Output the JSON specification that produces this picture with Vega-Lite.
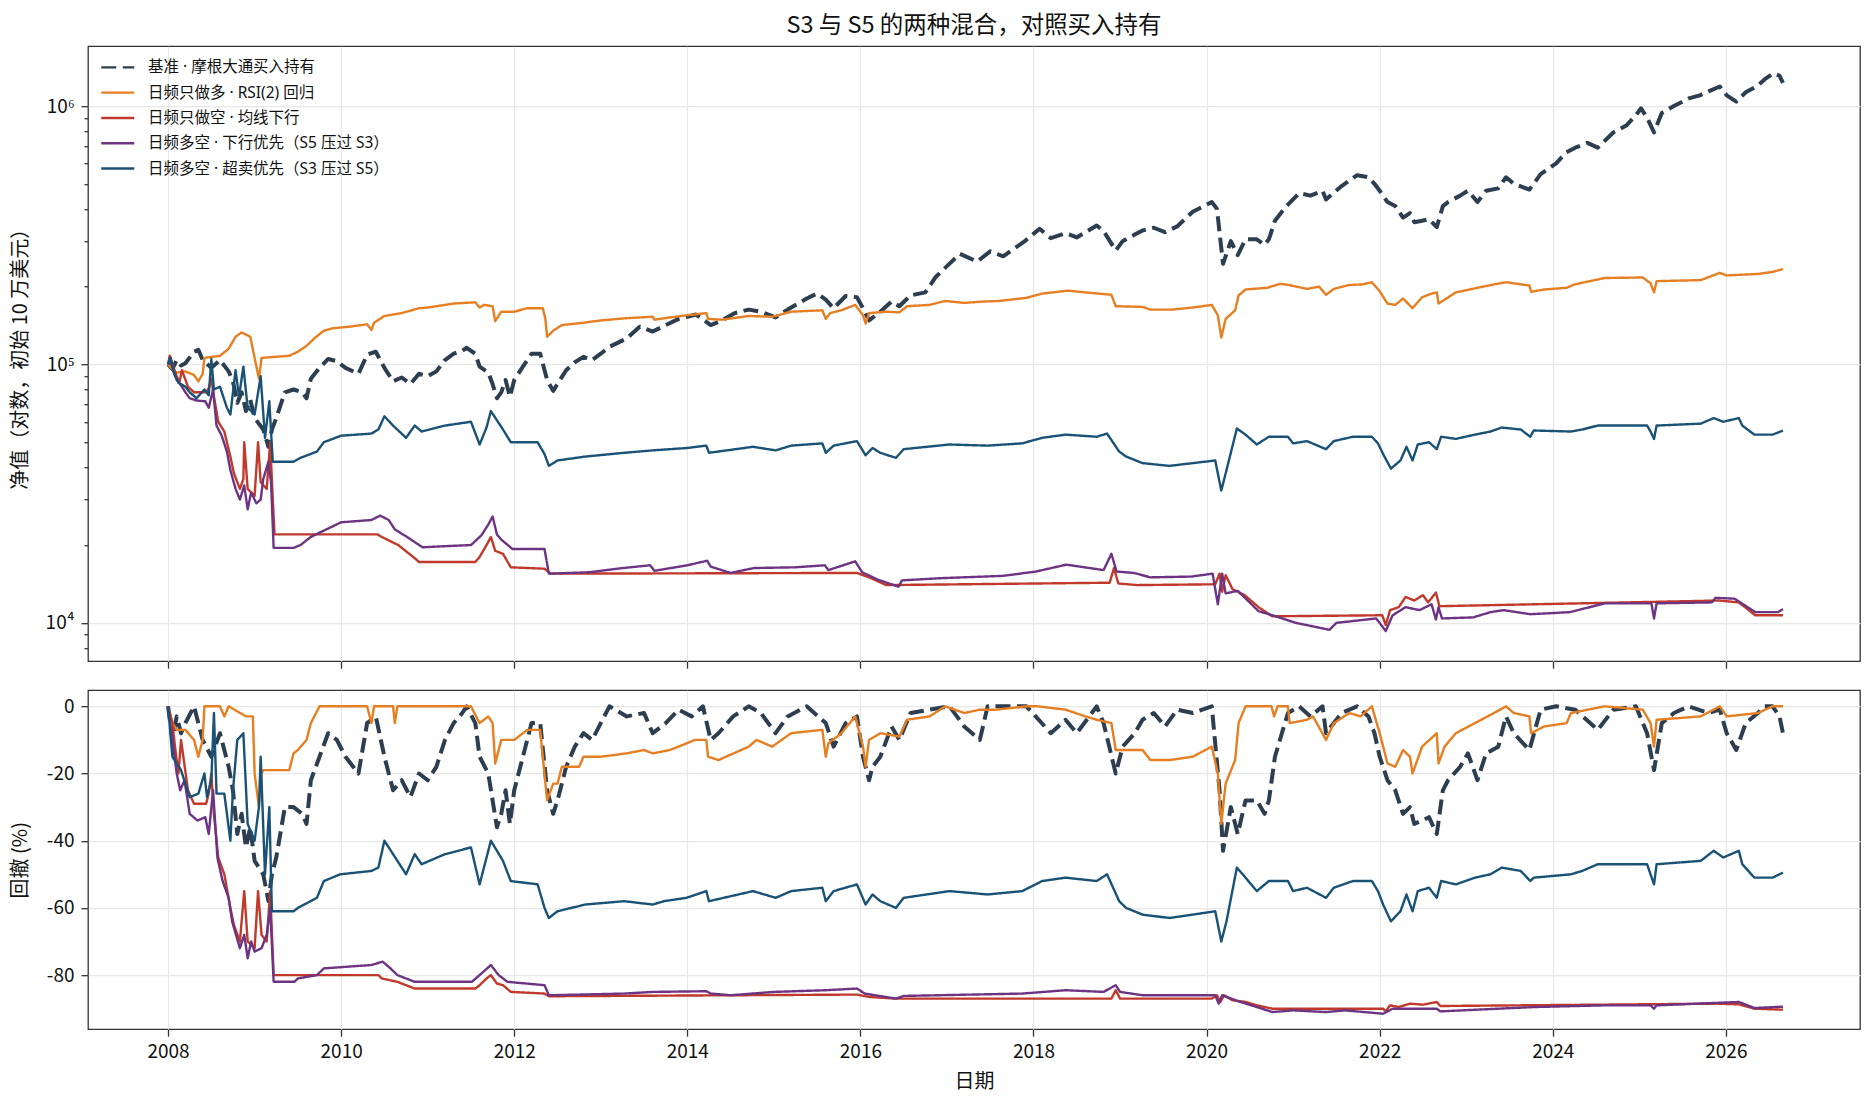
{
  "$schema": "https://vega.github.io/schema/vega-lite/v6.json",
  "background": "white",
  "padding": {"left": 9, "top": 13.2, "right": 14, "bottom": 14},
  "config": {
    "font": "Noto Sans CJK SC",
    "view": {"stroke": "#333333", "strokeWidth": 1.3},
    "axis": {
      "grid": true, "gridColor": "#e8e8e8", "gridWidth": 1.2, "domain": false,
      "tickColor": "#333333", "tickSize": 7, "tickWidth": 1.3,
      "labelFontSize": 19, "labelColor": "#111111", "labelPadding": 7,
      "titleFontSize": 20, "titleFontWeight": "normal", "titleColor": "#111111"
    },
    "legend": {
      "title": null, "orient": "none", "legendX": 17, "legendY": 8.4, "padding": 5,
      "labelFont": "Noto Sans, Noto Sans CJK SC", "labelFontSize": 15.5, "labelColor": "#111111",
      "labelOffset": 22.5, "labelLimit": 0, "rowPadding": 8.3,
      "symbolType": "M-3.3,0H3.3", "symbolSize": 100, "symbolStrokeWidth": 2.4
    },
    "line": {"strokeJoin": "round"}
  },
  "spacing": 19,
  "resolve": {
    "scale": {"color": "independent", "strokeDash": "independent"},
    "legend": {"color": "independent", "strokeDash": "independent"}
  },
  "datasets": {
    "nav": [
      {"s":"bh","t":2008.0,"v":100000},{"s":"bh","t":2008.05,"v":96000},{"s":"bh","t":2008.1,"v":104000},{"s":"bh","t":2008.15,"v":99000},{"s":"bh","t":2008.2,"v":101000},{"s":"bh","t":2008.3,"v":112000},{"s":"bh","t":2008.35,"v":114000},{"s":"bh","t":2008.4,"v":104000},{"s":"bh","t":2008.5,"v":97000},{"s":"bh","t":2008.6,"v":104000},{"s":"bh","t":2008.7,"v":94000},{"s":"bh","t":2008.75,"v":86000},{"s":"bh","t":2008.8,"v":71000},{"s":"bh","t":2008.85,"v":78000},{"s":"bh","t":2008.9,"v":66000},{"s":"bh","t":2008.95,"v":73000},{"s":"bh","t":2009.0,"v":62000},{"s":"bh","t":2009.1,"v":56000},{"s":"bh","t":2009.16,"v":48000},{"s":"bh","t":2009.2,"v":56000},{"s":"bh","t":2009.25,"v":62000},{"s":"bh","t":2009.35,"v":78000},{"s":"bh","t":2009.45,"v":80000},{"s":"bh","t":2009.55,"v":78000},{"s":"bh","t":2009.6,"v":74000},{"s":"bh","t":2009.65,"v":88000},{"s":"bh","t":2009.75,"v":97000},{"s":"bh","t":2009.85,"v":105000},{"s":"bh","t":2009.95,"v":103000},{"s":"bh","t":2010.05,"v":97000},{"s":"bh","t":2010.2,"v":92000},{"s":"bh","t":2010.3,"v":109000},{"s":"bh","t":2010.4,"v":112000},{"s":"bh","t":2010.5,"v":97000},{"s":"bh","t":2010.6,"v":86000},{"s":"bh","t":2010.7,"v":89000},{"s":"bh","t":2010.8,"v":84000},{"s":"bh","t":2010.9,"v":92000},{"s":"bh","t":2011.0,"v":90000},{"s":"bh","t":2011.1,"v":94000},{"s":"bh","t":2011.2,"v":104000},{"s":"bh","t":2011.3,"v":110000},{"s":"bh","t":2011.4,"v":113000},{"s":"bh","t":2011.45,"v":116000},{"s":"bh","t":2011.55,"v":110000},{"s":"bh","t":2011.6,"v":98000},{"s":"bh","t":2011.7,"v":93000},{"s":"bh","t":2011.75,"v":84000},{"s":"bh","t":2011.8,"v":74000},{"s":"bh","t":2011.85,"v":78000},{"s":"bh","t":2011.9,"v":87000},{"s":"bh","t":2011.95,"v":75000},{"s":"bh","t":2012.0,"v":87000},{"s":"bh","t":2012.1,"v":98000},{"s":"bh","t":2012.2,"v":110000},{"s":"bh","t":2012.3,"v":110000},{"s":"bh","t":2012.38,"v":87000},{"s":"bh","t":2012.45,"v":79000},{"s":"bh","t":2012.5,"v":84000},{"s":"bh","t":2012.6,"v":95000},{"s":"bh","t":2012.7,"v":102000},{"s":"bh","t":2012.8,"v":107000},{"s":"bh","t":2012.9,"v":104000},{"s":"bh","t":2013.0,"v":110000},{"s":"bh","t":2013.1,"v":117000},{"s":"bh","t":2013.3,"v":126000},{"s":"bh","t":2013.45,"v":140000},{"s":"bh","t":2013.6,"v":134000},{"s":"bh","t":2013.75,"v":142000},{"s":"bh","t":2013.9,"v":150000},{"s":"bh","t":2014.0,"v":153000},{"s":"bh","t":2014.1,"v":156000},{"s":"bh","t":2014.27,"v":142000},{"s":"bh","t":2014.4,"v":148000},{"s":"bh","t":2014.55,"v":158000},{"s":"bh","t":2014.71,"v":163000},{"s":"bh","t":2014.85,"v":160000},{"s":"bh","t":2015.02,"v":152000},{"s":"bh","t":2015.16,"v":163000},{"s":"bh","t":2015.38,"v":180000},{"s":"bh","t":2015.5,"v":188000},{"s":"bh","t":2015.6,"v":178000},{"s":"bh","t":2015.69,"v":165000},{"s":"bh","t":2015.83,"v":184000},{"s":"bh","t":2015.96,"v":182000},{"s":"bh","t":2016.03,"v":165000},{"s":"bh","t":2016.1,"v":148000},{"s":"bh","t":2016.23,"v":160000},{"s":"bh","t":2016.36,"v":175000},{"s":"bh","t":2016.45,"v":168000},{"s":"bh","t":2016.58,"v":185000},{"s":"bh","t":2016.75,"v":190000},{"s":"bh","t":2016.87,"v":218000},{"s":"bh","t":2017.0,"v":240000},{"s":"bh","t":2017.15,"v":268000},{"s":"bh","t":2017.35,"v":250000},{"s":"bh","t":2017.5,"v":274000},{"s":"bh","t":2017.65,"v":262000},{"s":"bh","t":2017.9,"v":300000},{"s":"bh","t":2018.07,"v":335000},{"s":"bh","t":2018.2,"v":308000},{"s":"bh","t":2018.37,"v":322000},{"s":"bh","t":2018.5,"v":310000},{"s":"bh","t":2018.73,"v":345000},{"s":"bh","t":2018.81,"v":328000},{"s":"bh","t":2018.95,"v":276000},{"s":"bh","t":2019.03,"v":300000},{"s":"bh","t":2019.17,"v":318000},{"s":"bh","t":2019.26,"v":330000},{"s":"bh","t":2019.39,"v":338000},{"s":"bh","t":2019.52,"v":325000},{"s":"bh","t":2019.66,"v":342000},{"s":"bh","t":2019.84,"v":390000},{"s":"bh","t":2020.06,"v":425000},{"s":"bh","t":2020.12,"v":400000},{"s":"bh","t":2020.19,"v":245000},{"s":"bh","t":2020.28,"v":300000},{"s":"bh","t":2020.36,"v":265000},{"s":"bh","t":2020.45,"v":305000},{"s":"bh","t":2020.58,"v":305000},{"s":"bh","t":2020.67,"v":290000},{"s":"bh","t":2020.72,"v":305000},{"s":"bh","t":2020.79,"v":360000},{"s":"bh","t":2020.87,"v":390000},{"s":"bh","t":2020.94,"v":415000},{"s":"bh","t":2021.07,"v":460000},{"s":"bh","t":2021.2,"v":450000},{"s":"bh","t":2021.34,"v":470000},{"s":"bh","t":2021.38,"v":435000},{"s":"bh","t":2021.56,"v":490000},{"s":"bh","t":2021.74,"v":540000},{"s":"bh","t":2021.87,"v":530000},{"s":"bh","t":2021.94,"v":500000},{"s":"bh","t":2022.0,"v":470000},{"s":"bh","t":2022.09,"v":425000},{"s":"bh","t":2022.18,"v":410000},{"s":"bh","t":2022.27,"v":370000},{"s":"bh","t":2022.35,"v":385000},{"s":"bh","t":2022.4,"v":355000},{"s":"bh","t":2022.49,"v":360000},{"s":"bh","t":2022.57,"v":365000},{"s":"bh","t":2022.66,"v":340000},{"s":"bh","t":2022.73,"v":410000},{"s":"bh","t":2022.79,"v":425000},{"s":"bh","t":2022.93,"v":450000},{"s":"bh","t":2023.02,"v":470000},{"s":"bh","t":2023.13,"v":425000},{"s":"bh","t":2023.23,"v":470000},{"s":"bh","t":2023.37,"v":480000},{"s":"bh","t":2023.46,"v":530000},{"s":"bh","t":2023.55,"v":500000},{"s":"bh","t":2023.73,"v":475000},{"s":"bh","t":2023.86,"v":545000},{"s":"bh","t":2024.04,"v":600000},{"s":"bh","t":2024.15,"v":660000},{"s":"bh","t":2024.26,"v":690000},{"s":"bh","t":2024.4,"v":720000},{"s":"bh","t":2024.52,"v":690000},{"s":"bh","t":2024.7,"v":790000},{"s":"bh","t":2024.85,"v":840000},{"s":"bh","t":2024.96,"v":920000},{"s":"bh","t":2025.02,"v":980000},{"s":"bh","t":2025.09,"v":900000},{"s":"bh","t":2025.17,"v":790000},{"s":"bh","t":2025.26,"v":940000},{"s":"bh","t":2025.4,"v":1000000},{"s":"bh","t":2025.57,"v":1070000},{"s":"bh","t":2025.7,"v":1100000},{"s":"bh","t":2025.8,"v":1140000},{"s":"bh","t":2025.93,"v":1190000},{"s":"bh","t":2026.01,"v":1100000},{"s":"bh","t":2026.12,"v":1040000},{"s":"bh","t":2026.23,"v":1130000},{"s":"bh","t":2026.37,"v":1200000},{"s":"bh","t":2026.45,"v":1270000},{"s":"bh","t":2026.55,"v":1340000},{"s":"bh","t":2026.62,"v":1310000},{"s":"bh","t":2026.66,"v":1230000},

      {"s":"lo","t":2008.0,"v":100000},{"s":"lo","t":2008.05,"v":96000},{"s":"lo","t":2008.1,"v":93000},{"s":"lo","t":2008.2,"v":94000},{"s":"lo","t":2008.3,"v":91000},{"s":"lo","t":2008.35,"v":86000},{"s":"lo","t":2008.4,"v":92000},{"s":"lo","t":2008.42,"v":106000},{"s":"lo","t":2008.6,"v":108000},{"s":"lo","t":2008.7,"v":115000},{"s":"lo","t":2008.78,"v":128000},{"s":"lo","t":2008.85,"v":133000},{"s":"lo","t":2008.95,"v":128000},{"s":"lo","t":2009.0,"v":106000},{"s":"lo","t":2009.05,"v":88000},{"s":"lo","t":2009.08,"v":106000},{"s":"lo","t":2009.4,"v":108000},{"s":"lo","t":2009.5,"v":112000},{"s":"lo","t":2009.6,"v":118000},{"s":"lo","t":2009.7,"v":127000},{"s":"lo","t":2009.8,"v":135000},{"s":"lo","t":2009.9,"v":138000},{"s":"lo","t":2010.1,"v":140000},{"s":"lo","t":2010.3,"v":143000},{"s":"lo","t":2010.35,"v":136000},{"s":"lo","t":2010.38,"v":145000},{"s":"lo","t":2010.5,"v":154000},{"s":"lo","t":2010.7,"v":158000},{"s":"lo","t":2010.9,"v":165000},{"s":"lo","t":2011.0,"v":166000},{"s":"lo","t":2011.3,"v":172000},{"s":"lo","t":2011.55,"v":174000},{"s":"lo","t":2011.6,"v":166000},{"s":"lo","t":2011.65,"v":170000},{"s":"lo","t":2011.75,"v":168000},{"s":"lo","t":2011.78,"v":147000},{"s":"lo","t":2011.85,"v":160000},{"s":"lo","t":2012.0,"v":160000},{"s":"lo","t":2012.15,"v":165000},{"s":"lo","t":2012.33,"v":165000},{"s":"lo","t":2012.36,"v":150000},{"s":"lo","t":2012.38,"v":128000},{"s":"lo","t":2012.45,"v":135000},{"s":"lo","t":2012.55,"v":142000},{"s":"lo","t":2012.8,"v":145000},{"s":"lo","t":2013.0,"v":148000},{"s":"lo","t":2013.3,"v":151000},{"s":"lo","t":2013.6,"v":153000},{"s":"lo","t":2013.62,"v":149000},{"s":"lo","t":2013.8,"v":152000},{"s":"lo","t":2014.0,"v":155000},{"s":"lo","t":2014.22,"v":158000},{"s":"lo","t":2014.24,"v":150000},{"s":"lo","t":2014.4,"v":149000},{"s":"lo","t":2014.71,"v":154000},{"s":"lo","t":2014.98,"v":153000},{"s":"lo","t":2015.2,"v":160000},{"s":"lo","t":2015.56,"v":162000},{"s":"lo","t":2015.6,"v":150000},{"s":"lo","t":2015.65,"v":158000},{"s":"lo","t":2015.78,"v":162000},{"s":"lo","t":2015.94,"v":170000},{"s":"lo","t":2016.03,"v":155000},{"s":"lo","t":2016.06,"v":144000},{"s":"lo","t":2016.1,"v":158000},{"s":"lo","t":2016.3,"v":160000},{"s":"lo","t":2016.45,"v":159000},{"s":"lo","t":2016.54,"v":168000},{"s":"lo","t":2016.8,"v":170000},{"s":"lo","t":2016.98,"v":176000},{"s":"lo","t":2017.2,"v":173000},{"s":"lo","t":2017.4,"v":175000},{"s":"lo","t":2017.6,"v":176000},{"s":"lo","t":2017.92,"v":181000},{"s":"lo","t":2018.1,"v":188000},{"s":"lo","t":2018.4,"v":193000},{"s":"lo","t":2018.6,"v":190000},{"s":"lo","t":2018.9,"v":186000},{"s":"lo","t":2018.95,"v":168000},{"s":"lo","t":2019.26,"v":167000},{"s":"lo","t":2019.35,"v":163000},{"s":"lo","t":2019.6,"v":163000},{"s":"lo","t":2019.84,"v":166000},{"s":"lo","t":2020.06,"v":170000},{"s":"lo","t":2020.13,"v":155000},{"s":"lo","t":2020.17,"v":127000},{"s":"lo","t":2020.22,"v":150000},{"s":"lo","t":2020.33,"v":162000},{"s":"lo","t":2020.37,"v":185000},{"s":"lo","t":2020.45,"v":195000},{"s":"lo","t":2020.7,"v":198000},{"s":"lo","t":2020.85,"v":205000},{"s":"lo","t":2020.95,"v":203000},{"s":"lo","t":2021.16,"v":196000},{"s":"lo","t":2021.3,"v":200000},{"s":"lo","t":2021.38,"v":186000},{"s":"lo","t":2021.47,"v":196000},{"s":"lo","t":2021.65,"v":203000},{"s":"lo","t":2021.8,"v":204000},{"s":"lo","t":2021.91,"v":208000},{"s":"lo","t":2022.0,"v":192000},{"s":"lo","t":2022.09,"v":172000},{"s":"lo","t":2022.18,"v":170000},{"s":"lo","t":2022.27,"v":180000},{"s":"lo","t":2022.38,"v":165000},{"s":"lo","t":2022.49,"v":182000},{"s":"lo","t":2022.6,"v":188000},{"s":"lo","t":2022.66,"v":190000},{"s":"lo","t":2022.68,"v":172000},{"s":"lo","t":2022.88,"v":190000},{"s":"lo","t":2023.1,"v":197000},{"s":"lo","t":2023.32,"v":204000},{"s":"lo","t":2023.46,"v":208000},{"s":"lo","t":2023.73,"v":202000},{"s":"lo","t":2023.75,"v":191000},{"s":"lo","t":2023.9,"v":195000},{"s":"lo","t":2024.16,"v":198000},{"s":"lo","t":2024.25,"v":204000},{"s":"lo","t":2024.6,"v":216000},{"s":"lo","t":2025.04,"v":217000},{"s":"lo","t":2025.13,"v":206000},{"s":"lo","t":2025.17,"v":190000},{"s":"lo","t":2025.2,"v":210000},{"s":"lo","t":2025.71,"v":212000},{"s":"lo","t":2025.93,"v":226000},{"s":"lo","t":2026.01,"v":221000},{"s":"lo","t":2026.37,"v":224000},{"s":"lo","t":2026.54,"v":228000},{"s":"lo","t":2026.66,"v":234000},

      {"s":"so","t":2008.0,"v":100000},{"s":"so","t":2008.02,"v":108000},{"s":"so","t":2008.06,"v":98000},{"s":"so","t":2008.1,"v":90000},{"s":"so","t":2008.13,"v":85000},{"s":"so","t":2008.16,"v":95000},{"s":"so","t":2008.23,"v":82000},{"s":"so","t":2008.3,"v":78000},{"s":"so","t":2008.44,"v":78000},{"s":"so","t":2008.47,"v":81000},{"s":"so","t":2008.5,"v":88000},{"s":"so","t":2008.53,"v":75000},{"s":"so","t":2008.58,"v":60000},{"s":"so","t":2008.65,"v":55000},{"s":"so","t":2008.72,"v":44000},{"s":"so","t":2008.76,"v":38000},{"s":"so","t":2008.83,"v":33000},{"s":"so","t":2008.87,"v":36000},{"s":"so","t":2008.88,"v":50000},{"s":"so","t":2008.92,"v":33000},{"s":"so","t":2009.0,"v":31000},{"s":"so","t":2009.04,"v":50000},{"s":"so","t":2009.07,"v":35000},{"s":"so","t":2009.14,"v":33000},{"s":"so","t":2009.18,"v":50000},{"s":"so","t":2009.21,"v":30000},{"s":"so","t":2009.23,"v":22000},{"s":"so","t":2010.42,"v":22000},{"s":"so","t":2010.47,"v":21500},{"s":"so","t":2010.66,"v":20000},{"s":"so","t":2010.85,"v":17800},{"s":"so","t":2010.9,"v":17200},{"s":"so","t":2011.55,"v":17200},{"s":"so","t":2011.6,"v":18000},{"s":"so","t":2011.68,"v":20000},{"s":"so","t":2011.73,"v":21500},{"s":"so","t":2011.78,"v":19000},{"s":"so","t":2011.87,"v":18500},{"s":"so","t":2011.96,"v":16400},{"s":"so","t":2012.35,"v":16200},{"s":"so","t":2012.42,"v":15500},{"s":"so","t":2015.96,"v":15600},{"s":"so","t":2016.1,"v":15000},{"s":"so","t":2016.3,"v":14000},{"s":"so","t":2018.88,"v":14300},{"s":"so","t":2018.93,"v":16300},{"s":"so","t":2018.98,"v":14200},{"s":"so","t":2019.2,"v":14000},{"s":"so","t":2020.1,"v":14100},{"s":"so","t":2020.15,"v":15500},{"s":"so","t":2020.18,"v":13200},{"s":"so","t":2020.22,"v":15300},{"s":"so","t":2020.3,"v":13500},{"s":"so","t":2020.44,"v":12800},{"s":"so","t":2020.6,"v":11500},{"s":"so","t":2020.76,"v":10600},{"s":"so","t":2022.03,"v":10700},{"s":"so","t":2022.07,"v":9800},{"s":"so","t":2022.12,"v":11200},{"s":"so","t":2022.22,"v":11500},{"s":"so","t":2022.3,"v":12600},{"s":"so","t":2022.4,"v":12200},{"s":"so","t":2022.5,"v":12800},{"s":"so","t":2022.56,"v":12000},{"s":"so","t":2022.65,"v":13100},{"s":"so","t":2022.69,"v":11600},{"s":"so","t":2025.92,"v":12200},{"s":"so","t":2026.15,"v":12000},{"s":"so","t":2026.34,"v":10700},{"s":"so","t":2026.66,"v":10700},

      {"s":"ds","t":2008.0,"v":100000},{"s":"ds","t":2008.02,"v":106000},{"s":"ds","t":2008.06,"v":95000},{"s":"ds","t":2008.1,"v":87000},{"s":"ds","t":2008.15,"v":83000},{"s":"ds","t":2008.2,"v":78000},{"s":"ds","t":2008.25,"v":74000},{"s":"ds","t":2008.33,"v":72500},{"s":"ds","t":2008.43,"v":72000},{"s":"ds","t":2008.47,"v":68000},{"s":"ds","t":2008.52,"v":80000},{"s":"ds","t":2008.56,"v":58000},{"s":"ds","t":2008.62,"v":53000},{"s":"ds","t":2008.68,"v":46000},{"s":"ds","t":2008.72,"v":39000},{"s":"ds","t":2008.78,"v":33000},{"s":"ds","t":2008.83,"v":30000},{"s":"ds","t":2008.88,"v":34000},{"s":"ds","t":2008.92,"v":27500},{"s":"ds","t":2008.96,"v":32000},{"s":"ds","t":2009.02,"v":29000},{"s":"ds","t":2009.07,"v":30000},{"s":"ds","t":2009.1,"v":36000},{"s":"ds","t":2009.16,"v":42000},{"s":"ds","t":2009.19,"v":35000},{"s":"ds","t":2009.22,"v":19500},{"s":"ds","t":2009.45,"v":19500},{"s":"ds","t":2009.53,"v":20000},{"s":"ds","t":2009.65,"v":21500},{"s":"ds","t":2009.77,"v":22500},{"s":"ds","t":2010.0,"v":24500},{"s":"ds","t":2010.35,"v":25000},{"s":"ds","t":2010.45,"v":26000},{"s":"ds","t":2010.55,"v":25000},{"s":"ds","t":2010.62,"v":23000},{"s":"ds","t":2010.78,"v":21300},{"s":"ds","t":2010.94,"v":19600},{"s":"ds","t":2011.2,"v":19800},{"s":"ds","t":2011.5,"v":20000},{"s":"ds","t":2011.62,"v":21800},{"s":"ds","t":2011.7,"v":24000},{"s":"ds","t":2011.75,"v":25800},{"s":"ds","t":2011.8,"v":22000},{"s":"ds","t":2011.85,"v":21000},{"s":"ds","t":2011.98,"v":19300},{"s":"ds","t":2012.35,"v":19300},{"s":"ds","t":2012.4,"v":15500},{"s":"ds","t":2012.87,"v":15700},{"s":"ds","t":2013.26,"v":16300},{"s":"ds","t":2013.57,"v":16700},{"s":"ds","t":2013.62,"v":15900},{"s":"ds","t":2014.0,"v":16700},{"s":"ds","t":2014.23,"v":17400},{"s":"ds","t":2014.27,"v":16500},{"s":"ds","t":2014.5,"v":15600},{"s":"ds","t":2014.77,"v":16300},{"s":"ds","t":2015.24,"v":16400},{"s":"ds","t":2015.59,"v":16700},{"s":"ds","t":2015.63,"v":16000},{"s":"ds","t":2015.94,"v":17300},{"s":"ds","t":2016.02,"v":15700},{"s":"ds","t":2016.2,"v":14700},{"s":"ds","t":2016.44,"v":13800},{"s":"ds","t":2016.48,"v":14600},{"s":"ds","t":2016.95,"v":14900},{"s":"ds","t":2017.65,"v":15200},{"s":"ds","t":2018.03,"v":15800},{"s":"ds","t":2018.38,"v":16800},{"s":"ds","t":2018.81,"v":16000},{"s":"ds","t":2018.9,"v":18500},{"s":"ds","t":2018.96,"v":15800},{"s":"ds","t":2019.16,"v":15600},{"s":"ds","t":2019.35,"v":15000},{"s":"ds","t":2019.82,"v":15100},{"s":"ds","t":2020.07,"v":15500},{"s":"ds","t":2020.13,"v":11800},{"s":"ds","t":2020.18,"v":15500},{"s":"ds","t":2020.22,"v":13000},{"s":"ds","t":2020.36,"v":13300},{"s":"ds","t":2020.6,"v":11100},{"s":"ds","t":2020.8,"v":10600},{"s":"ds","t":2021.03,"v":10000},{"s":"ds","t":2021.42,"v":9400},{"s":"ds","t":2021.5,"v":10000},{"s":"ds","t":2021.96,"v":10400},{"s":"ds","t":2022.07,"v":9300},{"s":"ds","t":2022.15,"v":10700},{"s":"ds","t":2022.3,"v":11500},{"s":"ds","t":2022.46,"v":11200},{"s":"ds","t":2022.6,"v":11800},{"s":"ds","t":2022.65,"v":10300},{"s":"ds","t":2022.68,"v":11500},{"s":"ds","t":2022.72,"v":10400},{"s":"ds","t":2023.08,"v":10500},{"s":"ds","t":2023.28,"v":11000},{"s":"ds","t":2023.43,"v":11200},{"s":"ds","t":2023.74,"v":10800},{"s":"ds","t":2024.2,"v":11000},{"s":"ds","t":2024.6,"v":11900},{"s":"ds","t":2025.14,"v":11900},{"s":"ds","t":2025.17,"v":10400},{"s":"ds","t":2025.2,"v":11900},{"s":"ds","t":2025.84,"v":12000},{"s":"ds","t":2025.88,"v":12500},{"s":"ds","t":2026.1,"v":12400},{"s":"ds","t":2026.2,"v":11800},{"s":"ds","t":2026.34,"v":11000},{"s":"ds","t":2026.6,"v":11000},{"s":"ds","t":2026.66,"v":11300},

      {"s":"os","t":2008.0,"v":100000},{"s":"os","t":2008.03,"v":106000},{"s":"os","t":2008.07,"v":92000},{"s":"os","t":2008.12,"v":85000},{"s":"os","t":2008.2,"v":82000},{"s":"os","t":2008.25,"v":78000},{"s":"os","t":2008.33,"v":74000},{"s":"os","t":2008.42,"v":80000},{"s":"os","t":2008.47,"v":76000},{"s":"os","t":2008.5,"v":105000},{"s":"os","t":2008.53,"v":80000},{"s":"os","t":2008.6,"v":82000},{"s":"os","t":2008.68,"v":68000},{"s":"os","t":2008.72,"v":64000},{"s":"os","t":2008.78,"v":95000},{"s":"os","t":2008.82,"v":75000},{"s":"os","t":2008.87,"v":98000},{"s":"os","t":2008.92,"v":68000},{"s":"os","t":2009.0,"v":64000},{"s":"os","t":2009.07,"v":90000},{"s":"os","t":2009.12,"v":52000},{"s":"os","t":2009.17,"v":72000},{"s":"os","t":2009.21,"v":42000},{"s":"os","t":2009.45,"v":42000},{"s":"os","t":2009.53,"v":43500},{"s":"os","t":2009.72,"v":46000},{"s":"os","t":2009.8,"v":50000},{"s":"os","t":2010.0,"v":53000},{"s":"os","t":2010.35,"v":54000},{"s":"os","t":2010.43,"v":56000},{"s":"os","t":2010.5,"v":63000},{"s":"os","t":2010.6,"v":58000},{"s":"os","t":2010.75,"v":52000},{"s":"os","t":2010.85,"v":58000},{"s":"os","t":2010.93,"v":55000},{"s":"os","t":2011.2,"v":58000},{"s":"os","t":2011.5,"v":60000},{"s":"os","t":2011.6,"v":49000},{"s":"os","t":2011.68,"v":57000},{"s":"os","t":2011.73,"v":66000},{"s":"os","t":2011.87,"v":56000},{"s":"os","t":2011.96,"v":50000},{"s":"os","t":2012.27,"v":50000},{"s":"os","t":2012.35,"v":45000},{"s":"os","t":2012.4,"v":40500},{"s":"os","t":2012.5,"v":42500},{"s":"os","t":2012.82,"v":44000},{"s":"os","t":2013.27,"v":45500},{"s":"os","t":2013.6,"v":46500},{"s":"os","t":2014.0,"v":47500},{"s":"os","t":2014.22,"v":48500},{"s":"os","t":2014.25,"v":45500},{"s":"os","t":2014.76,"v":48000},{"s":"os","t":2015.02,"v":46500},{"s":"os","t":2015.2,"v":48500},{"s":"os","t":2015.56,"v":49500},{"s":"os","t":2015.6,"v":45500},{"s":"os","t":2015.69,"v":48500},{"s":"os","t":2015.96,"v":50500},{"s":"os","t":2016.06,"v":44500},{"s":"os","t":2016.14,"v":47500},{"s":"os","t":2016.23,"v":45500},{"s":"os","t":2016.41,"v":43500},{"s":"os","t":2016.5,"v":47000},{"s":"os","t":2017.03,"v":49000},{"s":"os","t":2017.47,"v":48500},{"s":"os","t":2017.87,"v":49500},{"s":"os","t":2018.1,"v":52000},{"s":"os","t":2018.37,"v":53500},{"s":"os","t":2018.73,"v":52500},{"s":"os","t":2018.85,"v":54000},{"s":"os","t":2018.99,"v":46000},{"s":"os","t":2019.07,"v":44000},{"s":"os","t":2019.26,"v":41500},{"s":"os","t":2019.57,"v":40500},{"s":"os","t":2019.84,"v":41500},{"s":"os","t":2020.1,"v":42500},{"s":"os","t":2020.17,"v":32500},{"s":"os","t":2020.23,"v":39000},{"s":"os","t":2020.35,"v":56500},{"s":"os","t":2020.45,"v":53500},{"s":"os","t":2020.58,"v":49000},{"s":"os","t":2020.72,"v":52500},{"s":"os","t":2020.94,"v":52500},{"s":"os","t":2021.0,"v":49500},{"s":"os","t":2021.16,"v":50500},{"s":"os","t":2021.38,"v":47000},{"s":"os","t":2021.47,"v":50500},{"s":"os","t":2021.69,"v":52500},{"s":"os","t":2021.91,"v":52500},{"s":"os","t":2021.98,"v":49500},{"s":"os","t":2022.04,"v":45000},{"s":"os","t":2022.13,"v":39500},{"s":"os","t":2022.24,"v":42500},{"s":"os","t":2022.31,"v":48000},{"s":"os","t":2022.38,"v":42500},{"s":"os","t":2022.44,"v":49000},{"s":"os","t":2022.57,"v":50000},{"s":"os","t":2022.66,"v":47000},{"s":"os","t":2022.71,"v":52500},{"s":"os","t":2022.88,"v":51500},{"s":"os","t":2023.1,"v":53500},{"s":"os","t":2023.28,"v":55000},{"s":"os","t":2023.41,"v":57000},{"s":"os","t":2023.63,"v":56000},{"s":"os","t":2023.74,"v":52500},{"s":"os","t":2023.78,"v":55500},{"s":"os","t":2024.21,"v":55000},{"s":"os","t":2024.34,"v":56000},{"s":"os","t":2024.52,"v":58000},{"s":"os","t":2025.09,"v":58000},{"s":"os","t":2025.13,"v":55000},{"s":"os","t":2025.17,"v":51500},{"s":"os","t":2025.2,"v":58000},{"s":"os","t":2025.71,"v":59000},{"s":"os","t":2025.86,"v":62000},{"s":"os","t":2025.97,"v":60000},{"s":"os","t":2026.15,"v":62000},{"s":"os","t":2026.19,"v":58000},{"s":"os","t":2026.33,"v":53500},{"s":"os","t":2026.54,"v":53500},{"s":"os","t":2026.66,"v":55500}
    ],
    "dd": [
      {"s":"bh","t":2008.0,"v":0},{"s":"bh","t":2008.05,"v":-10},{"s":"bh","t":2008.1,"v":-3},{"s":"bh","t":2008.15,"v":-8},{"s":"bh","t":2008.2,"v":-5},{"s":"bh","t":2008.3,"v":0},{"s":"bh","t":2008.4,"v":-10},{"s":"bh","t":2008.5,"v":-15},{"s":"bh","t":2008.6,"v":-8},{"s":"bh","t":2008.7,"v":-18},{"s":"bh","t":2008.75,"v":-25},{"s":"bh","t":2008.8,"v":-38},{"s":"bh","t":2008.85,"v":-32},{"s":"bh","t":2008.9,"v":-42},{"s":"bh","t":2008.95,"v":-36},{"s":"bh","t":2009.0,"v":-46},{"s":"bh","t":2009.1,"v":-50},{"s":"bh","t":2009.16,"v":-58},{"s":"bh","t":2009.2,"v":-50},{"s":"bh","t":2009.25,"v":-45},{"s":"bh","t":2009.35,"v":-30},{"s":"bh","t":2009.45,"v":-30},{"s":"bh","t":2009.55,"v":-32},{"s":"bh","t":2009.6,"v":-35},{"s":"bh","t":2009.65,"v":-22},{"s":"bh","t":2009.75,"v":-15},{"s":"bh","t":2009.85,"v":-8},{"s":"bh","t":2009.95,"v":-10},{"s":"bh","t":2010.05,"v":-15},{"s":"bh","t":2010.2,"v":-20},{"s":"bh","t":2010.3,"v":-5},{"s":"bh","t":2010.4,"v":-3},{"s":"bh","t":2010.5,"v":-15},{"s":"bh","t":2010.6,"v":-25},{"s":"bh","t":2010.7,"v":-22},{"s":"bh","t":2010.8,"v":-27},{"s":"bh","t":2010.9,"v":-20},{"s":"bh","t":2011.0,"v":-22},{"s":"bh","t":2011.1,"v":-18},{"s":"bh","t":2011.2,"v":-10},{"s":"bh","t":2011.3,"v":-5},{"s":"bh","t":2011.4,"v":-2},{"s":"bh","t":2011.45,"v":0},{"s":"bh","t":2011.55,"v":-5},{"s":"bh","t":2011.6,"v":-15},{"s":"bh","t":2011.7,"v":-20},{"s":"bh","t":2011.75,"v":-28},{"s":"bh","t":2011.8,"v":-36},{"s":"bh","t":2011.85,"v":-32},{"s":"bh","t":2011.9,"v":-25},{"s":"bh","t":2011.95,"v":-35},{"s":"bh","t":2012.0,"v":-25},{"s":"bh","t":2012.1,"v":-15},{"s":"bh","t":2012.2,"v":-5},{"s":"bh","t":2012.3,"v":-5},{"s":"bh","t":2012.38,"v":-25},{"s":"bh","t":2012.45,"v":-32},{"s":"bh","t":2012.5,"v":-28},{"s":"bh","t":2012.6,"v":-18},{"s":"bh","t":2012.7,"v":-12},{"s":"bh","t":2012.8,"v":-8},{"s":"bh","t":2012.9,"v":-10},{"s":"bh","t":2013.0,"v":-5},{"s":"bh","t":2013.1,"v":0},{"s":"bh","t":2013.3,"v":-3},{"s":"bh","t":2013.5,"v":-2},{"s":"bh","t":2013.6,"v":-8},{"s":"bh","t":2013.75,"v":-5},{"s":"bh","t":2013.9,"v":-1},{"s":"bh","t":2014.05,"v":-3},{"s":"bh","t":2014.18,"v":0},{"s":"bh","t":2014.27,"v":-10},{"s":"bh","t":2014.36,"v":-8},{"s":"bh","t":2014.53,"v":-3},{"s":"bh","t":2014.71,"v":0},{"s":"bh","t":2014.85,"v":-2},{"s":"bh","t":2015.02,"v":-8},{"s":"bh","t":2015.16,"v":-3},{"s":"bh","t":2015.38,"v":0},{"s":"bh","t":2015.6,"v":-5},{"s":"bh","t":2015.69,"v":-12},{"s":"bh","t":2015.83,"v":-5},{"s":"bh","t":2015.96,"v":-3},{"s":"bh","t":2016.03,"v":-15},{"s":"bh","t":2016.1,"v":-22},{"s":"bh","t":2016.14,"v":-18},{"s":"bh","t":2016.23,"v":-15},{"s":"bh","t":2016.36,"v":-6},{"s":"bh","t":2016.45,"v":-10},{"s":"bh","t":2016.58,"v":-2},{"s":"bh","t":2016.8,"v":-1},{"s":"bh","t":2017.03,"v":0},{"s":"bh","t":2017.2,"v":-6},{"s":"bh","t":2017.38,"v":-10},{"s":"bh","t":2017.47,"v":0},{"s":"bh","t":2017.92,"v":0},{"s":"bh","t":2018.2,"v":-8},{"s":"bh","t":2018.37,"v":-4},{"s":"bh","t":2018.5,"v":-8},{"s":"bh","t":2018.73,"v":0},{"s":"bh","t":2018.81,"v":-5},{"s":"bh","t":2018.95,"v":-20},{"s":"bh","t":2019.03,"v":-12},{"s":"bh","t":2019.17,"v":-8},{"s":"bh","t":2019.26,"v":-4},{"s":"bh","t":2019.39,"v":-2},{"s":"bh","t":2019.52,"v":-6},{"s":"bh","t":2019.66,"v":-1},{"s":"bh","t":2019.84,"v":-2},{"s":"bh","t":2020.06,"v":0},{"s":"bh","t":2020.15,"v":-25},{"s":"bh","t":2020.19,"v":-43},{"s":"bh","t":2020.28,"v":-30},{"s":"bh","t":2020.36,"v":-38},{"s":"bh","t":2020.45,"v":-28},{"s":"bh","t":2020.58,"v":-28},{"s":"bh","t":2020.67,"v":-32},{"s":"bh","t":2020.72,"v":-28},{"s":"bh","t":2020.79,"v":-15},{"s":"bh","t":2020.87,"v":-8},{"s":"bh","t":2020.94,"v":-2},{"s":"bh","t":2021.07,"v":0},{"s":"bh","t":2021.2,"v":-3},{"s":"bh","t":2021.34,"v":0},{"s":"bh","t":2021.38,"v":-8},{"s":"bh","t":2021.56,"v":-2},{"s":"bh","t":2021.74,"v":0},{"s":"bh","t":2021.87,"v":-3},{"s":"bh","t":2021.94,"v":-8},{"s":"bh","t":2022.0,"v":-15},{"s":"bh","t":2022.09,"v":-22},{"s":"bh","t":2022.18,"v":-25},{"s":"bh","t":2022.27,"v":-32},{"s":"bh","t":2022.35,"v":-30},{"s":"bh","t":2022.4,"v":-35},{"s":"bh","t":2022.49,"v":-34},{"s":"bh","t":2022.57,"v":-33},{"s":"bh","t":2022.66,"v":-38},{"s":"bh","t":2022.73,"v":-25},{"s":"bh","t":2022.79,"v":-22},{"s":"bh","t":2022.93,"v":-18},{"s":"bh","t":2023.02,"v":-14},{"s":"bh","t":2023.13,"v":-22},{"s":"bh","t":2023.23,"v":-14},{"s":"bh","t":2023.37,"v":-12},{"s":"bh","t":2023.46,"v":-3},{"s":"bh","t":2023.55,"v":-8},{"s":"bh","t":2023.73,"v":-13},{"s":"bh","t":2023.86,"v":-1},{"s":"bh","t":2024.04,"v":0},{"s":"bh","t":2024.26,"v":-1},{"s":"bh","t":2024.52,"v":-7},{"s":"bh","t":2024.7,"v":-1},{"s":"bh","t":2024.96,"v":0},{"s":"bh","t":2025.09,"v":-8},{"s":"bh","t":2025.17,"v":-19},{"s":"bh","t":2025.26,"v":-5},{"s":"bh","t":2025.4,"v":-2},{"s":"bh","t":2025.57,"v":0},{"s":"bh","t":2025.8,"v":-2},{"s":"bh","t":2025.93,"v":-1},{"s":"bh","t":2026.01,"v":-8},{"s":"bh","t":2026.12,"v":-13},{"s":"bh","t":2026.23,"v":-5},{"s":"bh","t":2026.37,"v":-2},{"s":"bh","t":2026.45,"v":0},{"s":"bh","t":2026.54,"v":0},{"s":"bh","t":2026.62,"v":-3},{"s":"bh","t":2026.66,"v":-8},

      {"s":"lo","t":2008.0,"v":0},{"s":"lo","t":2008.05,"v":-5},{"s":"lo","t":2008.1,"v":-7},{"s":"lo","t":2008.2,"v":-7},{"s":"lo","t":2008.3,"v":-10},{"s":"lo","t":2008.35,"v":-15},{"s":"lo","t":2008.4,"v":-10},{"s":"lo","t":2008.42,"v":0},{"s":"lo","t":2008.6,"v":0},{"s":"lo","t":2008.65,"v":-3},{"s":"lo","t":2008.7,"v":0},{"s":"lo","t":2008.9,"v":-3},{"s":"lo","t":2008.98,"v":-3},{"s":"lo","t":2009.0,"v":-20},{"s":"lo","t":2009.05,"v":-30},{"s":"lo","t":2009.08,"v":-20},{"s":"lo","t":2009.1,"v":-19},{"s":"lo","t":2009.4,"v":-19},{"s":"lo","t":2009.45,"v":-14},{"s":"lo","t":2009.5,"v":-13},{"s":"lo","t":2009.6,"v":-10},{"s":"lo","t":2009.65,"v":-5},{"s":"lo","t":2009.75,"v":0},{"s":"lo","t":2010.3,"v":0},{"s":"lo","t":2010.35,"v":-5},{"s":"lo","t":2010.38,"v":0},{"s":"lo","t":2010.6,"v":0},{"s":"lo","t":2010.62,"v":-5},{"s":"lo","t":2010.65,"v":0},{"s":"lo","t":2011.5,"v":0},{"s":"lo","t":2011.6,"v":-5},{"s":"lo","t":2011.7,"v":-3},{"s":"lo","t":2011.75,"v":-5},{"s":"lo","t":2011.78,"v":-17},{"s":"lo","t":2011.85,"v":-10},{"s":"lo","t":2012.0,"v":-10},{"s":"lo","t":2012.15,"v":-7},{"s":"lo","t":2012.3,"v":-7},{"s":"lo","t":2012.33,"v":-15},{"s":"lo","t":2012.38,"v":-28},{"s":"lo","t":2012.45,"v":-23},{"s":"lo","t":2012.5,"v":-23},{"s":"lo","t":2012.55,"v":-18},{"s":"lo","t":2012.75,"v":-18},{"s":"lo","t":2012.8,"v":-15},{"s":"lo","t":2013.0,"v":-15},{"s":"lo","t":2013.3,"v":-14},{"s":"lo","t":2013.5,"v":-13},{"s":"lo","t":2013.6,"v":-14},{"s":"lo","t":2013.8,"v":-13},{"s":"lo","t":2014.09,"v":-10},{"s":"lo","t":2014.22,"v":-10},{"s":"lo","t":2014.24,"v":-15},{"s":"lo","t":2014.36,"v":-16},{"s":"lo","t":2014.71,"v":-12},{"s":"lo","t":2014.8,"v":-10},{"s":"lo","t":2014.98,"v":-12},{"s":"lo","t":2015.2,"v":-8},{"s":"lo","t":2015.56,"v":-7},{"s":"lo","t":2015.6,"v":-15},{"s":"lo","t":2015.63,"v":-11},{"s":"lo","t":2015.78,"v":-8},{"s":"lo","t":2015.94,"v":-3},{"s":"lo","t":2016.03,"v":-12},{"s":"lo","t":2016.06,"v":-18},{"s":"lo","t":2016.1,"v":-10},{"s":"lo","t":2016.23,"v":-8},{"s":"lo","t":2016.45,"v":-9},{"s":"lo","t":2016.54,"v":-4},{"s":"lo","t":2016.8,"v":-3},{"s":"lo","t":2016.98,"v":0},{"s":"lo","t":2017.2,"v":-2},{"s":"lo","t":2017.38,"v":-1},{"s":"lo","t":2017.56,"v":-1},{"s":"lo","t":2017.92,"v":0},{"s":"lo","t":2018.05,"v":0},{"s":"lo","t":2018.37,"v":-1},{"s":"lo","t":2018.6,"v":-3},{"s":"lo","t":2018.73,"v":-4},{"s":"lo","t":2018.9,"v":-5},{"s":"lo","t":2018.95,"v":-13},{"s":"lo","t":2019.26,"v":-13},{"s":"lo","t":2019.35,"v":-16},{"s":"lo","t":2019.57,"v":-16},{"s":"lo","t":2019.84,"v":-15},{"s":"lo","t":2020.06,"v":-12},{"s":"lo","t":2020.13,"v":-20},{"s":"lo","t":2020.17,"v":-35},{"s":"lo","t":2020.22,"v":-23},{"s":"lo","t":2020.33,"v":-16},{"s":"lo","t":2020.37,"v":-5},{"s":"lo","t":2020.45,"v":0},{"s":"lo","t":2020.75,"v":0},{"s":"lo","t":2020.78,"v":-3},{"s":"lo","t":2020.82,"v":0},{"s":"lo","t":2020.94,"v":0},{"s":"lo","t":2020.96,"v":-5},{"s":"lo","t":2021.16,"v":-4},{"s":"lo","t":2021.23,"v":-3},{"s":"lo","t":2021.38,"v":-10},{"s":"lo","t":2021.47,"v":-5},{"s":"lo","t":2021.65,"v":-2},{"s":"lo","t":2021.78,"v":-3},{"s":"lo","t":2021.91,"v":0},{"s":"lo","t":2022.0,"v":-8},{"s":"lo","t":2022.09,"v":-17},{"s":"lo","t":2022.18,"v":-18},{"s":"lo","t":2022.27,"v":-13},{"s":"lo","t":2022.35,"v":-15},{"s":"lo","t":2022.38,"v":-20},{"s":"lo","t":2022.49,"v":-12},{"s":"lo","t":2022.66,"v":-8},{"s":"lo","t":2022.68,"v":-17},{"s":"lo","t":2022.75,"v":-12},{"s":"lo","t":2022.88,"v":-8},{"s":"lo","t":2023.1,"v":-5},{"s":"lo","t":2023.32,"v":-2},{"s":"lo","t":2023.46,"v":0},{"s":"lo","t":2023.55,"v":-2},{"s":"lo","t":2023.73,"v":-3},{"s":"lo","t":2023.75,"v":-8},{"s":"lo","t":2023.9,"v":-6},{"s":"lo","t":2024.16,"v":-5},{"s":"lo","t":2024.21,"v":-2},{"s":"lo","t":2024.6,"v":0},{"s":"lo","t":2025.04,"v":-1},{"s":"lo","t":2025.13,"v":-5},{"s":"lo","t":2025.17,"v":-12},{"s":"lo","t":2025.2,"v":-4},{"s":"lo","t":2025.71,"v":-3},{"s":"lo","t":2025.93,"v":0},{"s":"lo","t":2026.01,"v":-3},{"s":"lo","t":2026.37,"v":-2},{"s":"lo","t":2026.54,"v":0},{"s":"lo","t":2026.66,"v":0},

      {"s":"so","t":2008.0,"v":0},{"s":"so","t":2008.05,"v":-5},{"s":"so","t":2008.08,"v":-12},{"s":"so","t":2008.12,"v":-20},{"s":"so","t":2008.15,"v":-10},{"s":"so","t":2008.23,"v":-25},{"s":"so","t":2008.3,"v":-29},{"s":"so","t":2008.44,"v":-29},{"s":"so","t":2008.47,"v":-26},{"s":"so","t":2008.5,"v":-20},{"s":"so","t":2008.53,"v":-32},{"s":"so","t":2008.58,"v":-45},{"s":"so","t":2008.65,"v":-50},{"s":"so","t":2008.72,"v":-60},{"s":"so","t":2008.76,"v":-65},{"s":"so","t":2008.83,"v":-70},{"s":"so","t":2008.88,"v":-55},{"s":"so","t":2008.92,"v":-70},{"s":"so","t":2009.0,"v":-72},{"s":"so","t":2009.04,"v":-55},{"s":"so","t":2009.08,"v":-68},{"s":"so","t":2009.14,"v":-70},{"s":"so","t":2009.18,"v":-55},{"s":"so","t":2009.22,"v":-80},{"s":"so","t":2010.43,"v":-80},{"s":"so","t":2010.47,"v":-81},{"s":"so","t":2010.65,"v":-82},{"s":"so","t":2010.85,"v":-84},{"s":"so","t":2011.55,"v":-84},{"s":"so","t":2011.6,"v":-83},{"s":"so","t":2011.68,"v":-81},{"s":"so","t":2011.73,"v":-80},{"s":"so","t":2011.8,"v":-82.5},{"s":"so","t":2011.87,"v":-83},{"s":"so","t":2011.96,"v":-85},{"s":"so","t":2012.35,"v":-85.5},{"s":"so","t":2012.4,"v":-86.3},{"s":"so","t":2015.96,"v":-85.8},{"s":"so","t":2016.1,"v":-86.5},{"s":"so","t":2016.4,"v":-87},{"s":"so","t":2018.9,"v":-87},{"s":"so","t":2018.95,"v":-84.5},{"s":"so","t":2019.0,"v":-87},{"s":"so","t":2020.06,"v":-87},{"s":"so","t":2020.12,"v":-86},{"s":"so","t":2020.16,"v":-88},{"s":"so","t":2020.2,"v":-86},{"s":"so","t":2020.3,"v":-87.5},{"s":"so","t":2020.45,"v":-88},{"s":"so","t":2020.58,"v":-89},{"s":"so","t":2020.76,"v":-90},{"s":"so","t":2022.04,"v":-90},{"s":"so","t":2022.07,"v":-90.8},{"s":"so","t":2022.12,"v":-89},{"s":"so","t":2022.22,"v":-89.5},{"s":"so","t":2022.35,"v":-88.5},{"s":"so","t":2022.5,"v":-88.8},{"s":"so","t":2022.66,"v":-88},{"s":"so","t":2022.7,"v":-89.2},{"s":"so","t":2025.9,"v":-88.5},{"s":"so","t":2026.15,"v":-88.7},{"s":"so","t":2026.33,"v":-90},{"s":"so","t":2026.66,"v":-90.3},

      {"s":"ds","t":2008.0,"v":0},{"s":"ds","t":2008.05,"v":-10},{"s":"ds","t":2008.1,"v":-20},{"s":"ds","t":2008.14,"v":-25},{"s":"ds","t":2008.19,"v":-22},{"s":"ds","t":2008.25,"v":-32},{"s":"ds","t":2008.34,"v":-34},{"s":"ds","t":2008.43,"v":-33},{"s":"ds","t":2008.47,"v":-38},{"s":"ds","t":2008.52,"v":-25},{"s":"ds","t":2008.57,"v":-45},{"s":"ds","t":2008.63,"v":-52},{"s":"ds","t":2008.7,"v":-57},{"s":"ds","t":2008.74,"v":-64},{"s":"ds","t":2008.83,"v":-72},{"s":"ds","t":2008.88,"v":-68},{"s":"ds","t":2008.92,"v":-75},{"s":"ds","t":2008.96,"v":-70},{"s":"ds","t":2009.0,"v":-73},{"s":"ds","t":2009.08,"v":-72},{"s":"ds","t":2009.14,"v":-68},{"s":"ds","t":2009.18,"v":-60},{"s":"ds","t":2009.22,"v":-82},{"s":"ds","t":2009.46,"v":-82},{"s":"ds","t":2009.5,"v":-81},{"s":"ds","t":2009.72,"v":-80},{"s":"ds","t":2009.8,"v":-78},{"s":"ds","t":2010.35,"v":-77},{"s":"ds","t":2010.48,"v":-76},{"s":"ds","t":2010.57,"v":-78},{"s":"ds","t":2010.65,"v":-80},{"s":"ds","t":2010.85,"v":-82},{"s":"ds","t":2011.51,"v":-82},{"s":"ds","t":2011.6,"v":-80},{"s":"ds","t":2011.73,"v":-77},{"s":"ds","t":2011.82,"v":-80},{"s":"ds","t":2011.92,"v":-82},{"s":"ds","t":2012.35,"v":-83},{"s":"ds","t":2012.4,"v":-86},{"s":"ds","t":2013.27,"v":-85.5},{"s":"ds","t":2013.6,"v":-85},{"s":"ds","t":2014.22,"v":-84.8},{"s":"ds","t":2014.27,"v":-85.5},{"s":"ds","t":2014.5,"v":-86},{"s":"ds","t":2015.0,"v":-85},{"s":"ds","t":2015.6,"v":-84.5},{"s":"ds","t":2015.96,"v":-84},{"s":"ds","t":2016.05,"v":-85.5},{"s":"ds","t":2016.41,"v":-87},{"s":"ds","t":2016.5,"v":-86.2},{"s":"ds","t":2017.87,"v":-85.5},{"s":"ds","t":2018.37,"v":-84.5},{"s":"ds","t":2018.81,"v":-85},{"s":"ds","t":2018.95,"v":-83},{"s":"ds","t":2019.0,"v":-85},{"s":"ds","t":2019.26,"v":-86},{"s":"ds","t":2020.1,"v":-86},{"s":"ds","t":2020.14,"v":-88.5},{"s":"ds","t":2020.18,"v":-86},{"s":"ds","t":2020.39,"v":-88},{"s":"ds","t":2020.58,"v":-89.5},{"s":"ds","t":2020.76,"v":-91},{"s":"ds","t":2021.0,"v":-90.5},{"s":"ds","t":2021.38,"v":-91},{"s":"ds","t":2021.6,"v":-90.5},{"s":"ds","t":2022.04,"v":-91.5},{"s":"ds","t":2022.15,"v":-90},{"s":"ds","t":2022.66,"v":-90},{"s":"ds","t":2022.7,"v":-90.8},{"s":"ds","t":2023.37,"v":-90},{"s":"ds","t":2023.8,"v":-89.5},{"s":"ds","t":2024.6,"v":-89},{"s":"ds","t":2025.13,"v":-89},{"s":"ds","t":2025.17,"v":-90},{"s":"ds","t":2025.2,"v":-89},{"s":"ds","t":2025.86,"v":-88.3},{"s":"ds","t":2026.15,"v":-88},{"s":"ds","t":2026.33,"v":-89.8},{"s":"ds","t":2026.66,"v":-89.4},

      {"s":"os","t":2008.0,"v":0},{"s":"os","t":2008.05,"v":-15},{"s":"os","t":2008.1,"v":-17},{"s":"os","t":2008.15,"v":-19},{"s":"os","t":2008.25,"v":-27},{"s":"os","t":2008.35,"v":-26},{"s":"os","t":2008.42,"v":-20},{"s":"os","t":2008.45,"v":-27},{"s":"os","t":2008.5,"v":-22},{"s":"os","t":2008.53,"v":-2},{"s":"os","t":2008.56,"v":-26},{"s":"os","t":2008.65,"v":-26},{"s":"os","t":2008.72,"v":-40},{"s":"os","t":2008.75,"v":-25},{"s":"os","t":2008.8,"v":-10},{"s":"os","t":2008.87,"v":-8},{"s":"os","t":2008.92,"v":-35},{"s":"os","t":2009.0,"v":-40},{"s":"os","t":2009.05,"v":-30},{"s":"os","t":2009.07,"v":-15},{"s":"os","t":2009.12,"v":-50},{"s":"os","t":2009.17,"v":-30},{"s":"os","t":2009.2,"v":-61},{"s":"os","t":2009.45,"v":-61},{"s":"os","t":2009.5,"v":-60},{"s":"os","t":2009.72,"v":-57},{"s":"os","t":2009.8,"v":-52},{"s":"os","t":2009.99,"v":-50},{"s":"os","t":2010.35,"v":-49},{"s":"os","t":2010.43,"v":-48},{"s":"os","t":2010.5,"v":-40},{"s":"os","t":2010.6,"v":-44},{"s":"os","t":2010.75,"v":-50},{"s":"os","t":2010.85,"v":-44},{"s":"os","t":2010.93,"v":-47},{"s":"os","t":2011.2,"v":-44},{"s":"os","t":2011.5,"v":-42},{"s":"os","t":2011.6,"v":-53},{"s":"os","t":2011.68,"v":-45},{"s":"os","t":2011.73,"v":-40},{"s":"os","t":2011.87,"v":-46},{"s":"os","t":2011.96,"v":-52},{"s":"os","t":2012.27,"v":-53},{"s":"os","t":2012.35,"v":-60},{"s":"os","t":2012.4,"v":-63},{"s":"os","t":2012.5,"v":-61},{"s":"os","t":2012.82,"v":-59},{"s":"os","t":2013.27,"v":-58},{"s":"os","t":2013.6,"v":-59},{"s":"os","t":2013.73,"v":-58},{"s":"os","t":2013.99,"v":-57},{"s":"os","t":2014.22,"v":-55},{"s":"os","t":2014.25,"v":-58},{"s":"os","t":2014.76,"v":-55},{"s":"os","t":2015.02,"v":-57},{"s":"os","t":2015.2,"v":-55},{"s":"os","t":2015.56,"v":-54},{"s":"os","t":2015.6,"v":-58},{"s":"os","t":2015.69,"v":-55},{"s":"os","t":2015.96,"v":-53},{"s":"os","t":2016.06,"v":-59},{"s":"os","t":2016.14,"v":-56},{"s":"os","t":2016.23,"v":-58},{"s":"os","t":2016.41,"v":-60},{"s":"os","t":2016.5,"v":-57},{"s":"os","t":2017.03,"v":-55},{"s":"os","t":2017.47,"v":-56},{"s":"os","t":2017.87,"v":-55},{"s":"os","t":2018.1,"v":-52},{"s":"os","t":2018.37,"v":-51},{"s":"os","t":2018.73,"v":-52},{"s":"os","t":2018.85,"v":-50},{"s":"os","t":2018.99,"v":-58},{"s":"os","t":2019.07,"v":-60},{"s":"os","t":2019.26,"v":-62},{"s":"os","t":2019.57,"v":-63},{"s":"os","t":2019.84,"v":-62},{"s":"os","t":2020.1,"v":-61},{"s":"os","t":2020.17,"v":-70},{"s":"os","t":2020.23,"v":-64},{"s":"os","t":2020.35,"v":-48},{"s":"os","t":2020.45,"v":-51},{"s":"os","t":2020.58,"v":-55},{"s":"os","t":2020.72,"v":-52},{"s":"os","t":2020.94,"v":-52},{"s":"os","t":2021.0,"v":-55},{"s":"os","t":2021.16,"v":-54},{"s":"os","t":2021.38,"v":-57},{"s":"os","t":2021.47,"v":-54},{"s":"os","t":2021.69,"v":-52},{"s":"os","t":2021.91,"v":-52},{"s":"os","t":2021.98,"v":-55},{"s":"os","t":2022.04,"v":-59},{"s":"os","t":2022.13,"v":-64},{"s":"os","t":2022.24,"v":-61},{"s":"os","t":2022.31,"v":-56},{"s":"os","t":2022.38,"v":-61},{"s":"os","t":2022.44,"v":-55},{"s":"os","t":2022.57,"v":-54},{"s":"os","t":2022.66,"v":-57},{"s":"os","t":2022.71,"v":-52},{"s":"os","t":2022.88,"v":-53},{"s":"os","t":2023.1,"v":-51},{"s":"os","t":2023.28,"v":-50},{"s":"os","t":2023.41,"v":-48},{"s":"os","t":2023.63,"v":-49},{"s":"os","t":2023.74,"v":-52},{"s":"os","t":2023.78,"v":-51},{"s":"os","t":2024.21,"v":-50},{"s":"os","t":2024.34,"v":-49},{"s":"os","t":2024.52,"v":-47},{"s":"os","t":2025.09,"v":-47},{"s":"os","t":2025.13,"v":-50},{"s":"os","t":2025.17,"v":-53},{"s":"os","t":2025.2,"v":-47},{"s":"os","t":2025.71,"v":-46},{"s":"os","t":2025.86,"v":-43},{"s":"os","t":2025.97,"v":-45},{"s":"os","t":2026.15,"v":-43},{"s":"os","t":2026.19,"v":-47},{"s":"os","t":2026.33,"v":-51},{"s":"os","t":2026.54,"v":-51},{"s":"os","t":2026.66,"v":-49.5}
    ]
  },
  "vconcat": [
    {
      "width": 1772,
      "height": 615,
      "title": {
        "text": "S3 与 S5 的两种混合，对照买入持有",
        "frame": "group", "anchor": "middle", "fontSize": 23.5, "fontWeight": "normal",
        "offset": 8.6, "color": "#111111"
      },
      "data": {"name": "nav"},
      "mark": {"type": "line", "clip": true},
      "encoding": {
        "x": {
          "field": "t", "type": "quantitative",
          "scale": {"domain": [2007.075, 2027.55], "nice": false, "zero": false},
          "axis": {"values": [2008, 2010, 2012, 2014, 2016, 2018, 2020, 2022, 2024, 2026], "labels": false, "title": null}
        },
        "y": {
          "field": "v", "type": "quantitative",
          "scale": {"type": "log", "domain": [7106, 1704000], "nice": false},
          "axis": {
            "title": "净值（对数，初始 10 万美元）",
            "titleX": -58, "titleBaseline": "bottom",
            "values": [8000, 9000, 10000, 20000, 30000, 40000, 50000, 60000, 70000, 80000, 90000, 100000, 200000, 300000, 400000, 500000, 600000, 700000, 800000, 900000, 1000000],
            "labelOverlap": false,
            "labelExpr": "datum.value == 10000 ? '10⁴' : datum.value == 100000 ? '10⁵' : datum.value == 1000000 ? '10⁶' : ''",
            "gridOpacity": {"condition": {"test": "datum.value == 10000 || datum.value == 100000 || datum.value == 1000000", "value": 1}, "value": 0},
            "tickSize": {"condition": {"test": "datum.value == 10000 || datum.value == 100000 || datum.value == 1000000", "value": 7}, "value": 4}
          }
        },
        "color": {
          "field": "s", "type": "nominal",
          "scale": {"domain": ["bh", "lo", "so", "ds", "os"], "range": ["#2c3e50", "#e67e22", "#c0392b", "#6c3483", "#1a5276"]},
          "legend": {
            "labelExpr": "datum.value == 'bh' ? '基准 · 摩根大通买入持有' : datum.value == 'lo' ? '日频只做多 · RSI(2) 回归' : datum.value == 'so' ? '日频只做空 · 均线下行' : datum.value == 'ds' ? '日频多空 · 下行优先（S5 压过 S3）' : '日频多空 · 超卖优先（S3 压过 S5）'",
            "encode": {"symbols": {"update": {"strokeWidth": {"signal": "datum.value == 'bh' ? 4 : 2.4"}}}}
          }
        },
        "strokeDash": {
          "field": "s", "type": "nominal",
          "scale": {"domain": ["bh", "lo", "so", "ds", "os"], "range": [[15, 6.5], [1, 0], [1, 0], [1, 0], [1, 0]]},
          "legend": {
            "labelExpr": "datum.value == 'bh' ? '基准 · 摩根大通买入持有' : datum.value == 'lo' ? '日频只做多 · RSI(2) 回归' : datum.value == 'so' ? '日频只做空 · 均线下行' : datum.value == 'ds' ? '日频多空 · 下行优先（S5 压过 S3）' : '日频多空 · 超卖优先（S3 压过 S5）'"
          }
        },
        "strokeWidth": {"condition": {"test": "datum.s == 'bh'", "value": 4}, "value": 2.4}
      }
    },
    {
      "width": 1772,
      "height": 339,
      "data": {"name": "dd"},
      "mark": {"type": "line", "clip": true},
      "encoding": {
        "x": {
          "field": "t", "type": "quantitative",
          "scale": {"domain": [2007.075, 2027.55], "nice": false, "zero": false},
          "axis": {"values": [2008, 2010, 2012, 2014, 2016, 2018, 2020, 2022, 2024, 2026], "format": "d", "title": "日期", "labelPadding": 6, "titlePadding": 10}
        },
        "y": {
          "field": "v", "type": "quantitative",
          "scale": {"domain": [-96.1, 4.8], "nice": false, "zero": false},
          "axis": {
            "title": "回撤 (%)", "titleX": -58, "titleBaseline": "bottom",
            "values": [0, -20, -40, -60, -80],
            "labelExpr": "'' + datum.value"
          }
        },
        "color": {
          "field": "s", "type": "nominal",
          "scale": {"domain": ["bh", "lo", "so", "ds", "os"], "range": ["#2c3e50", "#e67e22", "#c0392b", "#6c3483", "#1a5276"]},
          "legend": null
        },
        "strokeDash": {
          "field": "s", "type": "nominal",
          "scale": {"domain": ["bh", "lo", "so", "ds", "os"], "range": [[15, 6.5], [1, 0], [1, 0], [1, 0], [1, 0]]},
          "legend": null
        },
        "strokeWidth": {"condition": {"test": "datum.s == 'bh'", "value": 4}, "value": 2.4}
      }
    }
  ]
}
